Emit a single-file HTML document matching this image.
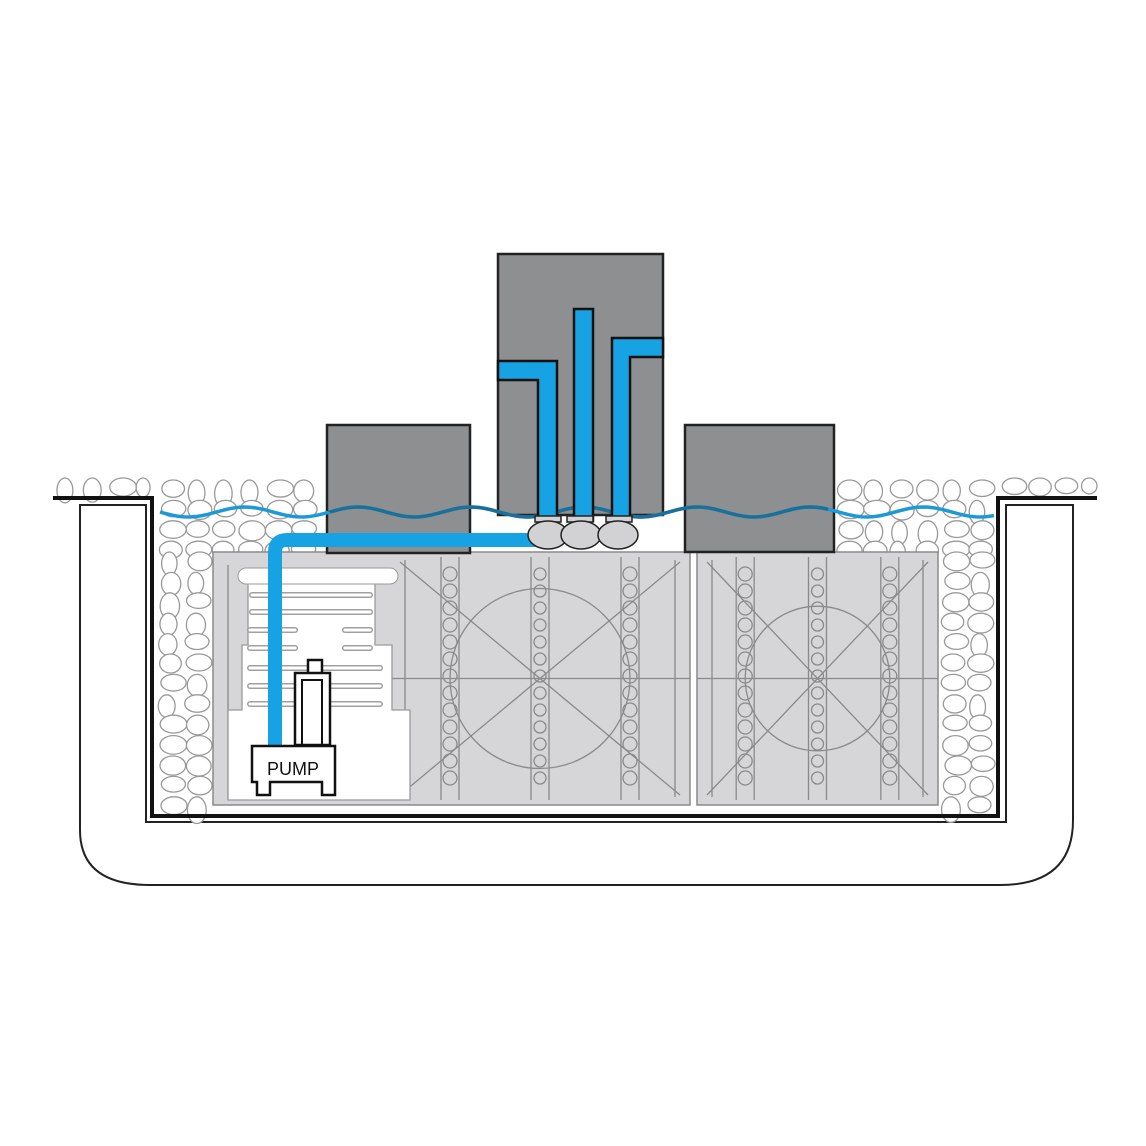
<!DOCTYPE html>
<html><head><meta charset="utf-8"><style>html,body{margin:0;padding:0;background:#fff}svg{display:block}</style></head>
<body>
<svg id="s" width="1146" height="1146" viewBox="0 0 1146 1146" xmlns="http://www.w3.org/2000/svg">
<rect width="1146" height="1146" fill="#fff"/>
<path d="M80,505 H146 V822 H1006 V505 H1073 V820 Q1073,885 1000,885 H150 Q80,885 80,830 Z" fill="none" stroke="#222" stroke-width="2"/>
<g id="stones" fill="#fff" stroke="#999" stroke-width="1.3"></g>
<g id="crates">
<rect x="213" y="552" width="477" height="253" fill="#d6d6d8" stroke="#8a8a8a" stroke-width="1.5"/>
<rect x="697" y="552" width="241" height="253" fill="#d6d6d8" stroke="#8a8a8a" stroke-width="1.5"/>
<g fill="none" stroke="#8a8a8a" stroke-width="1.3" id="pat"></g>
</g>
<path d="M228,800 V710 H242 V645 H248 V575 H375 V645 H392 V710 H410 V800 Z" fill="#fff" stroke="#9a9a9a" stroke-width="1.3"/>
<rect x="238" y="568" width="160" height="16" rx="8" fill="#fff" stroke="#9a9a9a"/>
<g stroke="#a0a0a0" stroke-width="6" stroke-linecap="round">
<line x1="252" y1="595" x2="370" y2="595"/><line x1="252" y1="612" x2="370" y2="612"/>
<line x1="250" y1="630" x2="295" y2="630"/><line x1="345" y1="630" x2="370" y2="630"/>
<line x1="250" y1="648" x2="295" y2="648"/><line x1="345" y1="648" x2="370" y2="648"/>
<line x1="250" y1="668" x2="380" y2="668"/><line x1="250" y1="686" x2="380" y2="686"/>
<line x1="250" y1="704" x2="380" y2="704"/>
</g>
<g stroke="#fff" stroke-width="3" stroke-linecap="round">
<line x1="252" y1="595" x2="370" y2="595"/><line x1="252" y1="612" x2="370" y2="612"/>
<line x1="250" y1="630" x2="295" y2="630"/><line x1="345" y1="630" x2="370" y2="630"/>
<line x1="250" y1="648" x2="295" y2="648"/><line x1="345" y1="648" x2="370" y2="648"/>
<line x1="250" y1="668" x2="380" y2="668"/><line x1="250" y1="686" x2="380" y2="686"/>
<line x1="250" y1="704" x2="380" y2="704"/>
</g>
<path d="M53,498 H152 V816 H998 V498 H1097" fill="none" stroke="#111" stroke-width="4"/>
<rect x="327" y="425" width="143" height="128" fill="#8e8f91" stroke="#222" stroke-width="2.5"/>
<rect x="685" y="425" width="149" height="127" fill="#8e8f91" stroke="#222" stroke-width="2.5"/>
<rect x="498" y="254" width="165" height="261" fill="#8e8f91" stroke="#222" stroke-width="2.5"/>
<path id="wave" d="" fill="none" stroke="#1d9ad6" stroke-width="3.5"/>
<path id="wave2" d="" fill="none" stroke="#1c6f98" stroke-width="3.5"/>
<path d="M498,361 H557 V520 H538 V380 H498 Z" fill="#17a3e3" stroke="#111" stroke-width="2.5"/>
<rect x="574" y="309" width="19" height="212" fill="#17a3e3" stroke="#111" stroke-width="2.5"/>
<path d="M612,521 V338 H663 V357 H630 V521 Z" fill="#17a3e3" stroke="#111" stroke-width="2.5"/>
<path d="M275,748 V552 Q275,540 287,540 H540" fill="none" stroke="#17a3e3" stroke-width="14"/>
<g fill="#d2d2d4" stroke="#222" stroke-width="1.5">
<rect x="535" y="516" width="26" height="6"/><rect x="567" y="516" width="26" height="6"/><rect x="606" y="516" width="26" height="6"/>
<ellipse cx="548" cy="535" rx="20" ry="14"/><ellipse cx="581" cy="535" rx="20" ry="14"/><ellipse cx="618" cy="535" rx="20" ry="14"/>
</g>
<rect x="308" y="660" width="14" height="14" fill="#fff" stroke="#111" stroke-width="2.5"/>
<rect x="295" y="673" width="35" height="72" fill="#fff" stroke="#111" stroke-width="2.5"/>
<rect x="302" y="680" width="20" height="65" fill="none" stroke="#111" stroke-width="2"/>
<path d="M252,746 H335 V795 H322 V782 H270 V795 H257 V782 H252 Z" fill="#fff" stroke="#111" stroke-width="2.5"/>
<text x="293" y="775" text-anchor="middle" font-family="Liberation Sans, sans-serif" font-size="18" fill="#111">PUMP</text>
</svg>
<script>
(function(){
var ns="http://www.w3.org/2000/svg";
function el(p,t,a){var e=document.createElementNS(ns,t);for(var k in a)e.setAttribute(k,a[k]);p.appendChild(e);return e;}
var seed=7;function r(){seed=(seed*9301+49297)%233280;return seed/233280;}
var st=document.getElementById('stones');
function fill(x0,x1,y0,y1,s){for(var y=y0;y<y1-s*0.4;y+=s*0.85){for(var x=x0+(r()*4);x<x1-s*0.5;x+=s*1.1){var rx=s*0.45+r()*s*0.12,ry=s*0.32+r()*s*0.1;if(r()<0.25){var t=rx;rx=ry;ry=t;}if(x+2*rx>x1)rx=(x1-x)/2;if(rx<4)continue;el(st,'ellipse',{cx:x+rx,cy:y+ry,rx:rx,ry:ry});}}}
fill(55,150,478,497,24);fill(1002,1097,478,497,24);
fill(158,328,480,552,24);fill(158,212,552,812,24);
fill(836,995,480,552,24);fill(941,995,552,812,24);
var d="M160,512",d2="M330,512";
for(var x=160;x<=995;x+=6){d+=" L"+x+","+(512+5*Math.sin((x-160)/18));}
document.getElementById('wave').setAttribute('d',d);
for(x=330;x<=833;x+=6){d2+=" L"+x+","+(512+5*Math.sin((x-160)/18));}
document.getElementById('wave2').setAttribute('d',d2);
var p=document.getElementById('pat');
function crate(x0,y0,w,h){
 var cx=x0+w/2,cy=y0+h/2;
 el(p,'circle',{cx:cx,cy:cy,r:w*0.3});
 el(p,'line',{x1:x0+10,y1:y0+10,x2:x0+w-10,y2:y0+h-10});
 el(p,'line',{x1:x0+w-10,y1:y0+10,x2:x0+10,y2:y0+h-10});
 el(p,'line',{x1:x0,y1:cy,x2:x0+w,y2:cy});
 [0.2,0.5,0.8].forEach(function(f){var xx=x0+w*f;el(p,'line',{x1:xx-9,y1:y0+5,x2:xx-9,y2:y0+h-5});el(p,'line',{x1:xx+9,y1:y0+5,x2:xx+9,y2:y0+h-5});
  for(var yy=y0+22;yy<y0+h-15;yy+=17)el(p,'circle',{cx:xx,cy:yy,r:f==0.5?6:7});});
 el(p,'line',{x1:x0+15,y1:y0+8,x2:x0+15,y2:y0+h-8});el(p,'line',{x1:x0+w-15,y1:y0+8,x2:x0+w-15,y2:y0+h-8});
}
crate(390,552,300,253);crate(697,552,241,253);
el(p,'line',{x1:228,y1:565,x2:228,y2:800});
})();
</script>
</body></html>
